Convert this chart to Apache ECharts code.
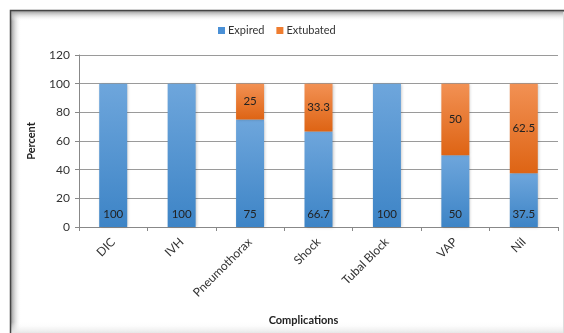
<!DOCTYPE html>
<html><head><meta charset="utf-8">
<script src="https://cdn.jsdelivr.net/npm/echarts@6/dist/echarts.min.js"></script>
<style>html,body{margin:0;padding:0;background:#fff}#c{width:564px;height:333px}</style>
</head><body><div id="c"></div>
<script>
const categories = ['DIC', 'IVH', 'Pneumothorax', 'Shock', 'Tubal Block', 'VAP', 'Nil'];
const expired = [100, 100, 75, 66.7, 100, 50, 37.5];
const extubated = [null, null, 25, 33.3, null, 50, 62.5];
const yTicks = [0, 20, 40, 60, 80, 100, 120];

const font = 'Lato, "Open Sans", sans-serif';
const blueGrad = new echarts.graphic.LinearGradient(0, 0, 0, 1, [{offset: 0, color: '#6ea6dc'}, {offset: 1, color: '#3d84c6'}]);
const orangeGrad = new echarts.graphic.LinearGradient(0, 0, 0, 1, [{offset: 0, color: '#f29154'}, {offset: 1, color: '#de6414'}]);

const chart = echarts.init(document.getElementById('c'), null, {renderer: 'canvas'});
chart.setOption({
  animation: false,
  textStyle: {fontFamily: font},
  graphic: [
    {type: 'rect', shape: {x: 11, y: 11, width: 10, height: 330}, style: {fill: new echarts.graphic.LinearGradient(0, 0, 1, 0, [{offset: 0, color: '#9a9a9a'}, {offset: 1, color: 'rgba(255,255,255,0)'}])}, silent: true, z: -1},
    {type: 'rect', shape: {x: 11, y: 11, width: 560, height: 10}, style: {fill: new echarts.graphic.LinearGradient(0, 0, 0, 1, [{offset: 0, color: '#9a9a9a'}, {offset: 1, color: 'rgba(255,255,255,0)'}])}, silent: true, z: -1},
    {type: 'rect', shape: {x: 11, y: 322, width: 560, height: 11}, style: {fill: new echarts.graphic.LinearGradient(0, 0, 0, 1, [{offset: 0, color: 'rgba(255,255,255,0)'}, {offset: 1, color: '#e6e6e6'}])}, silent: true, z: -1},
    {type: 'rect', shape: {x: 10.5, y: 10.5, width: 600, height: 400}, style: {fill: 'none', stroke: '#444', lineWidth: 1.5}, silent: true, z: -1},
    {type: 'line', shape: {x1: 563.5, y1: 12, x2: 563.5, y2: 333}, style: {stroke: '#ddd', lineWidth: 1}, silent: true, z: -1}
  ],
  legend: {
    top: 20, left: 213,
    itemWidth: 7, itemHeight: 7, itemGap: 12,
    icon: 'rect',
    textStyle: {fontSize: 11, color: '#333', fontFamily: font, padding: [0, 0, 0, -2]},
    data: [{name: 'Expired', itemStyle: {color: '#4a90d6'}}, {name: 'Extubated', itemStyle: {color: '#ef7d30'}}]
  },
  grid: {left: 79, right: 6, top: 55, bottom: 106, containLabel: false},
  xAxis: {
    type: 'category', data: categories,
    name: 'Complications', nameLocation: 'middle', nameGap: 88,
    nameTextStyle: {fontWeight: 'bold', fontSize: 11, color: '#222', padding: [0, 30, 0, 0]},
    axisLine: {lineStyle: {color: '#888'}},
    axisTick: {show: true, length: 4, lineStyle: {color: '#888'}},
    axisLabel: {rotate: 45, fontSize: 12, color: '#333', margin: 13}
  },
  yAxis: {
    type: 'value', min: yTicks[0], max: yTicks[yTicks.length - 1], interval: 20,
    name: 'Percent', nameLocation: 'middle', nameGap: 42, nameRotate: 90,
    nameTextStyle: {fontWeight: 'bold', fontSize: 11, color: '#222'},
    axisLine: {show: true, lineStyle: {color: '#888'}},
    axisTick: {show: true, length: 4, lineStyle: {color: '#888'}},
    axisLabel: {fontSize: 12, color: '#333', margin: 9},
    splitLine: {lineStyle: {color: '#9a9a9a'}}
  },
  series: [
    {
      name: 'Expired', type: 'bar', stack: 'a', barWidth: 28, data: expired,
      itemStyle: {color: blueGrad, shadowColor: 'rgba(0,0,0,0.25)', shadowBlur: 3, shadowOffsetX: 1},
      label: {show: true, position: 'insideBottom', distance: 7, fontSize: 11.5, color: '#222'}
    },
    {
      name: 'Extubated', type: 'bar', stack: 'a', barWidth: 28, data: extubated,
      itemStyle: {color: orangeGrad, shadowColor: 'rgba(0,0,0,0.25)', shadowBlur: 3, shadowOffsetX: 1},
      label: {show: true, position: 'inside', fontSize: 11.5, color: '#222'}
    }
  ]
});
</script></body></html>
